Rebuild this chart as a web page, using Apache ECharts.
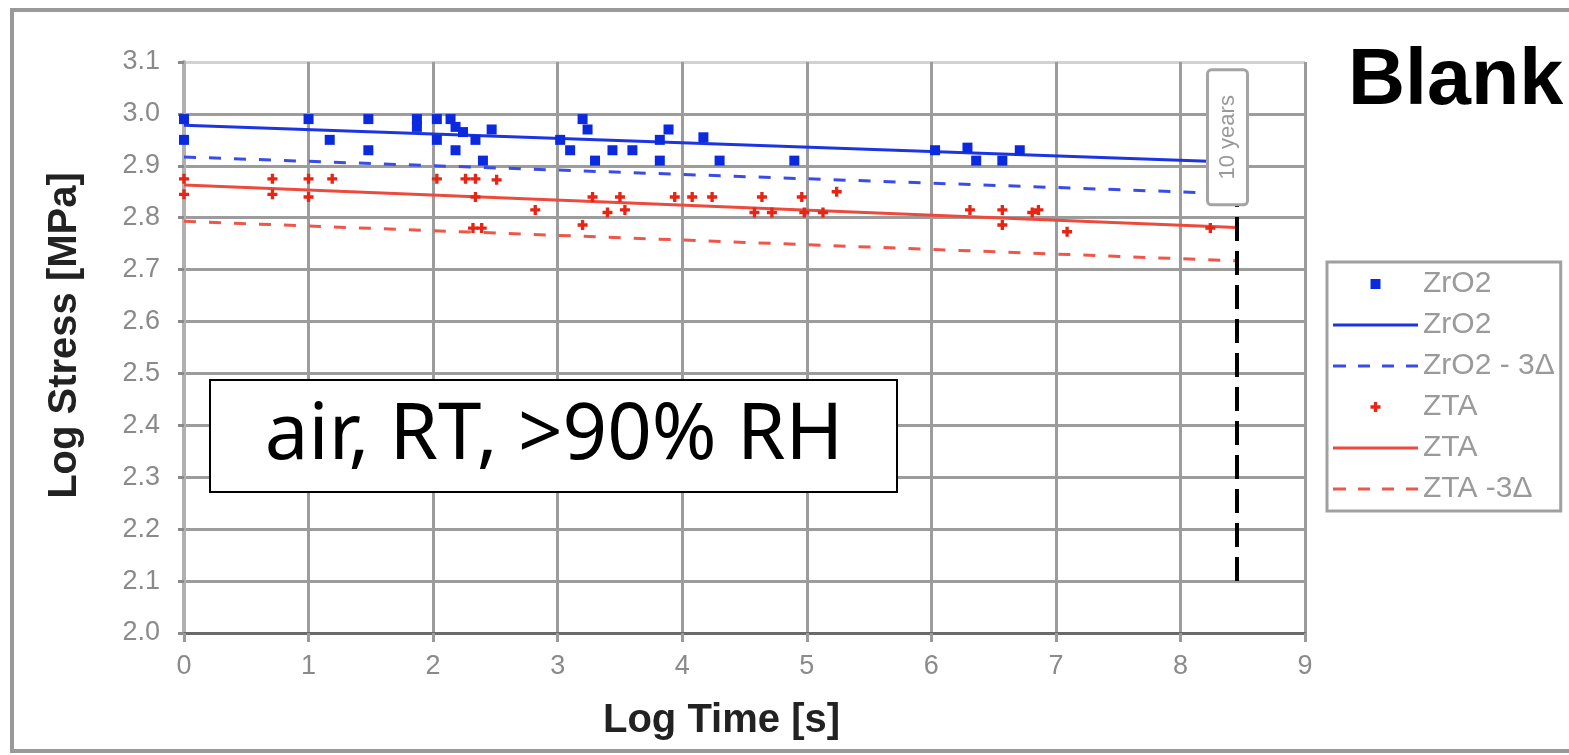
<!DOCTYPE html>
<html><head><meta charset="utf-8">
<script src="https://cdn.jsdelivr.net/npm/echarts@6/dist/echarts.min.js"></script>
<style>html,body{margin:0;padding:0;background:#fff}#c{width:1569px;height:755px}</style>
</head><body><div id="c"></div>
<script>
// ---- data (log time [s], log stress [MPa]) ----
const zro2Time   = [0.0, 0.0, 1.0, 1.17, 1.48, 1.48, 1.87, 1.87, 2.03, 2.03, 2.14, 2.18, 2.18, 2.24, 2.34, 2.40, 2.47, 3.02, 3.10, 3.20, 3.24, 3.30, 3.44, 3.60, 3.82, 3.82, 3.89, 4.17, 4.30, 4.90, 6.03, 6.29, 6.36, 6.57, 6.71];
const zro2Stress = [2.99, 2.95, 2.99, 2.95, 2.99, 2.93, 2.99, 2.975, 2.99, 2.95, 2.99, 2.975, 2.93, 2.965, 2.95, 2.91, 2.97, 2.95, 2.93, 2.99, 2.97, 2.91, 2.93, 2.93, 2.95, 2.91, 2.97, 2.955, 2.91, 2.91, 2.93, 2.935, 2.91, 2.91, 2.93];
const ztaTime    = [0.0, 0.0, 0.71, 0.71, 1.0, 1.0, 1.19, 2.03, 2.26, 2.34, 2.34, 2.32, 2.39, 2.51, 2.82, 3.20, 3.28, 3.40, 3.50, 3.54, 3.94, 4.08, 4.24, 4.58, 4.64, 4.72, 4.96, 4.98, 5.13, 5.24, 6.31, 6.57, 6.57, 6.81, 6.86, 7.09, 8.24];
const ztaStress  = [2.875, 2.845, 2.875, 2.845, 2.875, 2.84, 2.875, 2.875, 2.875, 2.875, 2.84, 2.78, 2.78, 2.873, 2.815, 2.786, 2.84, 2.81, 2.84, 2.815, 2.84, 2.84, 2.84, 2.81, 2.84, 2.81, 2.84, 2.81, 2.81, 2.85, 2.815, 2.815, 2.786, 2.81, 2.815, 2.773, 2.78];
const fitTime         = [0, 8.45];
const zro2FitStress   = [2.978, 2.907];
const zro2LowerStress = [2.917, 2.846];
const ztaFitStress    = [2.863, 2.781];
const ztaLowerStress  = [2.793, 2.717];
const tenYearsLogTime = 8.45;
const tenYearsStress  = [2.1, 2.825];
const legendNames = ['ZrO2', 'ZrO2 fit', 'ZrO2 low', 'ZTA', 'ZTA fit', 'ZTA low'];
const legendLabels = ['ZrO2', 'ZrO2', 'ZrO2 - 3Δ', 'ZTA', 'ZTA', 'ZTA -3Δ'];

const pairs = (xs, ys) => xs.map((x, i) => [x, ys[i]]);
const FONT = '"Liberation Sans", Arial, sans-serif';
const SOLID_ICON = 'path://M0,0H85V3H0Z';
const DASH_ICON = 'path://M0,0H13V3H0Z M25,0H37V3H25Z M49,0H61V3H49Z M73,0H85V3H73Z';
const chart = echarts.init(document.getElementById('c'), null, {renderer: 'canvas'});

const gridColor = '#9c9c9c';
const C_BLUE = '#1c34e2', C_BLUE_D = '#3a4ce8', C_RED = '#ec4a3c', C_RED_D = '#ef564a';
const option = {
  animation: false,
  backgroundColor: '#fff',
  grid: {left: 184, right: 264, top: 62, bottom: 122, containLabel: false, outerBoundsMode: 'none'},
  xAxis: {
    type: 'value', min: 0, max: 9, interval: 1,
    name: 'Log Time [s]', nameLocation: 'middle', nameGap: 68,
    nameTextStyle: {fontFamily: FONT, fontSize: 40, fontWeight: 'bold', color: '#222', padding: [0, 46, 0, 0]},
    axisLine: {show: true, onZero: false, lineStyle: {color: '#6a6a6a', width: 3}},
    axisTick: {show: true, length: 9, lineStyle: {color: '#9a9a9a', width: 3}},
    axisLabel: {fontFamily: FONT, fontSize: 27, color: '#8a8a8a', margin: 20},
    splitLine: {show: true, lineStyle: {color: gridColor, width: 3}}
  },
  yAxis: {
    type: 'value', min: 2.0, max: 3.1, interval: 0.1,
    name: 'Log Stress [MPa]', nameLocation: 'middle', nameGap: 99,
    nameTextStyle: {fontFamily: FONT, fontSize: 40, fontWeight: 'bold', color: '#222', padding: [0, 0, 0, 24]},
    axisLine: {show: true, onZero: false, lineStyle: {color: '#b0b0b0', width: 4}},
    axisTick: {show: true, length: 6, lineStyle: {color: '#8a8a8a', width: 3}},
    axisLabel: {fontFamily: FONT, fontSize: 27, color: '#8a8a8a', margin: 24, formatter: v => v.toFixed(1)},
    splitLine: {show: true, lineStyle: {color: [gridColor, gridColor, gridColor, gridColor, gridColor, gridColor, gridColor, gridColor, gridColor, gridColor, gridColor, '#d2d2d2'], width: 3}}
  },
  legend: {
    orient: 'vertical', left: 1327, top: 262,
    data: [
      {name: 'ZrO2'},
      {name: 'ZrO2 fit', icon: SOLID_ICON},
      {name: 'ZrO2 low', icon: DASH_ICON},
      {name: 'ZTA'},
      {name: 'ZTA fit', icon: SOLID_ICON},
      {name: 'ZTA low', icon: DASH_ICON}
    ],
    formatter: n => legendLabels[legendNames.indexOf(n)],
    itemWidth: 85, itemHeight: 10, itemGap: 11, itemTextGap: 3,
    padding: [7, 6, 7, 6],
    backgroundColor: '#fff', borderColor: '#a0a0a0', borderWidth: 3, borderRadius: 0,
    textStyle: {fontFamily: FONT, fontSize: 30, color: '#9a9a9a', lineHeight: 30},
    selectedMode: false
  },
  series: [
    {name: 'ZrO2', type: 'scatter', data: pairs(zro2Time, zro2Stress),
     symbol: 'path://M0,0H10V10H0Z', symbolSize: 10, itemStyle: {color: '#0b2ae0', opacity: 1}, z: 5},
    {name: 'ZrO2 fit', type: 'line', data: pairs(fitTime, zro2FitStress), symbol: 'none',
     itemStyle: {color: C_BLUE}, lineStyle: {color: C_BLUE, width: 3}, z: 4},
    {name: 'ZrO2 low', type: 'line', data: pairs(fitTime, zro2LowerStress), symbol: 'none',
     itemStyle: {color: C_BLUE_D}, lineStyle: {color: C_BLUE_D, width: 3, type: [12, 13]}, z: 4},
    {name: 'ZTA', type: 'scatter', data: pairs(ztaTime, ztaStress),
     symbol: 'path://M3,0H6V3H9V6H6V9H3V6H0V3H3Z', symbolSize: 10, itemStyle: {color: '#e82414', opacity: 1}, z: 5},
    {name: 'ZTA fit', type: 'line', data: pairs(fitTime, ztaFitStress), symbol: 'none',
     itemStyle: {color: C_RED}, lineStyle: {color: C_RED, width: 3}, z: 4},
    {name: 'ZTA low', type: 'line', data: pairs(fitTime, ztaLowerStress), symbol: 'none',
     itemStyle: {color: C_RED_D}, lineStyle: {color: C_RED_D, width: 3, type: [12, 13]}, z: 4,
     markLine: {silent: true, symbol: 'none', label: {show: false},
       lineStyle: {color: '#000', width: 4, type: [24, 10]},
       data: [[{coord: [tenYearsLogTime, tenYearsStress[0]]}, {coord: [tenYearsLogTime, tenYearsStress[1]]}]]}}
  ],
  graphic: [
    {type: 'rect', z: 100, shape: {x: 12, y: 10, width: 1570, height: 741},
     style: {fill: 'none', stroke: '#999', lineWidth: 4}},
    {type: 'text', z: 100, left: 1348, top: 43,
     style: {text: 'Blank', font: 'bold 79px ' + FONT, fill: '#000'}},
    {type: 'rect', z: 100, shape: {x: 210, y: 380, width: 687, height: 112},
     style: {fill: '#fff', stroke: '#000', lineWidth: 2}},
    {type: 'text', z: 101, x: 554, y: 437,
     style: {text: 'air, RT, >90% RH', font: '78px "Noto Sans", "Open Sans", sans-serif', fill: '#000', textAlign: 'center', textVerticalAlign: 'middle'}}
  ]
};
chart.setOption(option);

// "10 years" label box placed through the axis scales
const pTop = chart.convertToPixel({gridIndex: 0}, [tenYearsLogTime, 3.085]);
const pBot = chart.convertToPixel({gridIndex: 0}, [tenYearsLogTime, tenYearsStress[1]]);
const bx = pTop[0] - 29, bw = 40;
chart.setOption({graphic: option.graphic.concat([
  {type: 'rect', z: 100, shape: {x: bx, y: pTop[1], width: bw, height: pBot[1] - pTop[1], r: 4},
   style: {fill: '#fff', stroke: '#a4a4a4', lineWidth: 3}},
  {type: 'text', z: 101, x: bx + bw / 2, y: (pTop[1] + pBot[1]) / 2, rotation: Math.PI / 2,
   style: {text: '10 years', font: '22px ' + FONT, fill: '#999', textAlign: 'center', textVerticalAlign: 'middle'}}
])});
</script>
</body></html>
